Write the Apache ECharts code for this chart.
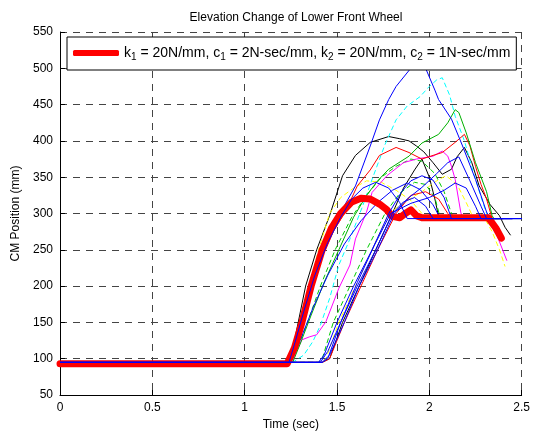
<!DOCTYPE html>
<html>
<head>
<meta charset="utf-8">
<title>Elevation Change of Lower Front Wheel</title>
<script src="https://cdn.jsdelivr.net/npm/echarts@6/dist/echarts.min.js"></script>
<style>
  html, body { margin: 0; padding: 0; background: #fff; }
  #chart { width: 533px; height: 436px; }
</style>
</head>
<body>
<div id="chart"></div>
<script>
// axis ticks
const xTicks = [0, 0.5, 1, 1.5, 2, 2.5];
const yTicks = [50, 100, 150, 200, 250, 300, 350, 400, 450, 500, 550];

// [time (sec), CM position (mm)]
const thickRed = [[0,93],[1.23,93],[1.27,115],[1.31,150],[1.36,200],[1.42,250],[1.47,280],[1.52,300],[1.58,316],[1.63,321],[1.68,320],[1.73,313],[1.77,305],[1.80,296],[1.84,294],[1.87,300],[1.90,305],[1.93,297],[1.96,294],[2.32,294],[2.36,280],[2.39,266]];
const blackEarly = [[0,95],[1.22,95],[1.25,100],[1.29,150],[1.33,200],[1.39,250],[1.46,297],[1.53,352],[1.60,380],[1.68,398],[1.78,406],[1.84,403],[1.89,400],[1.93,393],[1.97,385],[2.02,370],[2.07,354],[2.12,361],[2.15,378],[2.19,391],[2.23,370],[2.27,338],[2.33,312],[2.38,297],[2.41,281],[2.44,270]];
const blackLate = [[0,95],[1.42,95],[1.46,100],[1.53,150],[1.62,200],[1.71,250],[1.80,300],[1.86,335],[1.92,360],[1.96,375],[2.00,350],[2.03,320],[2.05,296],[2.06,293],[2.40,293]];
const blueTall = [[0,95],[1.24,95],[1.26,100],[1.30,150],[1.36,200],[1.43,250],[1.51,297],[1.60,338],[1.68,393],[1.73,429],[1.78,457],[1.82,475],[1.89,497],[1.94,512],[1.98,500],[2.03,470],[2.05,457],[2.12,430],[2.18,393],[2.25,347],[2.31,302],[2.33,293],[2.50,293]];
const cyanDash = [[0,95],[1.26,95],[1.29,100],[1.32,105],[1.37,124],[1.41,146],[1.46,183],[1.51,229],[1.57,265],[1.64,311],[1.69,347],[1.76,395],[1.82,429],[1.88,448],[1.95,461],[2.00,475],[2.04,484],[2.07,487],[2.11,463],[2.14,434],[2.19,400],[2.24,355],[2.29,315],[2.32,293],[2.38,293]];
const greenPeak = [[0,95],[1.26,95],[1.30,120],[1.36,160],[1.43,205],[1.51,250],[1.59,295],[1.66,325],[1.72,345],[1.78,361],[1.89,379],[1.96,397],[2.05,409],[2.10,425],[2.14,443],[2.16,439],[2.20,411],[2.25,370],[2.31,330],[2.34,297],[2.35,293],[2.50,293]];
const redThin = [[0,95],[1.25,95],[1.28,120],[1.33,170],[1.40,230],[1.48,275],[1.55,305],[1.61,338],[1.68,360],[1.73,380],[1.82,391],[1.89,384],[1.96,375],[2.02,380],[2.07,384],[2.14,398],[2.19,409],[2.22,393],[2.25,365],[2.28,340],[2.31,320],[2.34,293],[2.45,293]];
const redLate = [[0,95],[1.42,95],[1.46,100],[1.54,150],[1.63,200],[1.72,250],[1.82,300],[1.90,325],[1.98,330],[2.05,320],[2.10,300],[2.12,293],[2.40,293]];
const magenta = [[0,95],[1.26,95],[1.28,110],[1.31,126],[1.35,130],[1.39,133],[1.44,151],[1.51,197],[1.57,229],[1.60,265],[1.66,302],[1.69,329],[1.77,352],[1.86,370],[1.93,375],[2.02,379],[2.07,386],[2.10,379],[2.12,365],[2.14,347],[2.17,302],[2.18,293],[2.32,293],[2.36,274],[2.42,235]];
const yellowDash = [[0,95],[1.24,95],[1.26,100],[1.30,150],[1.35,200],[1.40,250],[1.46,300],[1.52,322],[1.59,335],[1.66,345],[1.74,343],[1.82,332],[1.90,318],[1.96,300],[1.98,293],[2.30,293],[2.34,275],[2.38,250],[2.41,227]];
const yellowLate = [[0,95],[1.41,95],[1.44,100],[1.51,150],[1.60,200],[1.69,250],[1.78,300],[1.88,318],[1.96,330],[2.04,345],[2.09,352],[2.15,340],[2.20,315],[2.24,293],[2.30,293]];
const greenDash = [[0,95],[1.25,95],[1.28,110],[1.34,150],[1.41,200],[1.49,250],[1.58,295],[1.66,325],[1.74,350],[1.82,365],[1.90,375],[1.96,372],[2.03,355],[2.08,330],[2.12,300],[2.13,293],[2.40,293]];
const greenLate = [[0,95],[1.40,95],[1.42,100],[1.48,150],[1.57,200],[1.66,250],[1.76,300],[1.84,328],[1.92,343],[1.98,340],[2.03,322],[2.06,293],[2.40,293]];
const blueEarly = [[0,95],[1.24,95],[1.27,120],[1.32,165],[1.38,215],[1.45,260],[1.52,295],[1.58,320],[1.64,335],[1.71,343],[1.78,335],[1.84,315],[1.88,293],[2.50,293]];
const blueMid = [[0,95],[1.25,95],[1.30,125],[1.37,170],[1.45,215],[1.54,258],[1.63,290],[1.72,315],[1.80,332],[1.88,342],[1.95,333],[2.02,312],[2.06,293],[2.45,293]];
const blueLateA = [[0,95],[1.40,95],[1.43,105],[1.50,150],[1.59,200],[1.69,250],[1.78,300],[1.85,330],[1.90,345],[1.96,352],[2.02,346],[2.08,322],[2.12,293],[2.45,293]];
const blueLateB = [[0,95],[1.41,95],[1.45,110],[1.52,150],[1.61,200],[1.71,250],[1.80,300],[1.86,316],[1.92,322],[1.98,310],[2.02,293],[2.45,293]];
const blueLateC = [[0,95],[1.42,95],[1.46,105],[1.54,150],[1.62,200],[1.72,250],[1.81,300],[1.88,320],[1.96,336],[2.04,355],[2.10,370],[2.16,378],[2.22,345],[2.28,310],[2.31,293],[2.50,293]];
const blueLateD = [[0,95],[1.42,95],[1.45,100],[1.52,150],[1.61,205],[1.70,255],[1.79,300],[1.90,314],[2.00,322],[2.08,332],[2.14,342],[2.20,335],[2.25,310],[2.28,293],[2.45,293]];

const legendName = 'k1 = 20N/mm, c1 = 2N-sec/mm, k2 = 20N/mm, c2 = 1N-sec/mm';
const font = 'Liberation Sans, Arial, Helvetica, sans-serif';

function thin(data, color, dashed) {
  return {
    type: 'line',
    data: data,
    showSymbol: false,
    silent: true,
    lineStyle: { color: color, width: 1, type: dashed ? [5, 3] : 'solid' },
    itemStyle: { color: color }
  };
}

var series = [
  thin(blackEarly, '#000000'),
  thin(blackLate, '#000000'),
  thin(cyanDash, '#00ffff', true),
  thin(yellowDash, '#ffff00', true),
  thin(yellowLate, '#ffff00', true),
  thin(greenDash, '#00cc00', true),
  thin(greenLate, '#00cc00', true),
  thin(magenta, '#ff00ff'),
  thin(redThin, '#ff0000'),
  thin(redLate, '#ff0000'),
  thin(greenPeak, '#00b000'),
  thin(blueMid, '#0000ff'),
  thin(blueTall, '#0000ff'),
  {
    name: legendName,
    type: 'line',
    data: thickRed,
    showSymbol: false,
    silent: true,
    lineStyle: { color: '#ff0000', width: 7, cap: 'round', join: 'round' },
    itemStyle: { color: '#ff0000' }
  },
  thin(blueEarly, '#0000ff'),
  thin(blueLateA, '#0000ff'),
  thin(blueLateB, '#0000ff'),
  thin(blueLateC, '#0000ff'),
  thin(blueLateD, '#0000ff')
];

var chart = echarts.init(document.getElementById('chart'), null, { renderer: 'canvas' });
var option = {
  animation: false,
  backgroundColor: '#ffffff',
  title: {
    text: 'Elevation Change of Lower Front Wheel',
    left: 291,
    textAlign: 'center',
    top: 7,
    textStyle: { fontFamily: font, fontSize: 12, fontWeight: 'normal', color: '#000' }
  },
  legend: {
    data: [legendName],
    left: 67,
    top: 37,
    padding: [9, 6, 8, 6],
    itemWidth: 46,
    itemHeight: 6,
    itemGap: 4,
    icon: 'roundRect',
    backgroundColor: '#ffffff',
    borderColor: '#000000',
    borderWidth: 1,
    borderRadius: 0,
    selectedMode: false,
    formatter: function () {
      return '{t|k}{s|1}{t| = 20N/mm, c}{s|1}{t| = 2N-sec/mm, k}{s|2}{t| = 20N/mm, c}{s|2}{t| = 1N-sec/mm}';
    },
    textStyle: {
      rich: {
        t: { fontFamily: font, fontSize: 14, color: '#000', lineHeight: 18 },
        s: { fontFamily: font, fontSize: 10, color: '#000', lineHeight: 10, verticalAlign: 'bottom' }
      }
    }
  },
  grid: { left: 60, right: 10.5, top: 32, bottom: 39, show: false },
  xAxis: {
    type: 'value',
    min: xTicks[0],
    max: xTicks[xTicks.length - 1],
    interval: 0.5,
    name: 'Time (sec)',
    nameLocation: 'middle',
    nameGap: 24,
    nameTextStyle: { fontFamily: font, fontSize: 12, color: '#000' },
    axisLine: { show: true, lineStyle: { color: '#000', width: 1 } },
    axisTick: { show: true, inside: true, length: 5, lineStyle: { color: '#000' } },
    axisLabel: { fontFamily: font, fontSize: 12, color: '#000', margin: 7 },
    splitLine: { show: true, lineStyle: { color: '#444', width: 1, type: [7, 6] } }
  },
  yAxis: {
    type: 'value',
    min: yTicks[0],
    max: yTicks[yTicks.length - 1],
    interval: 50,
    name: 'CM Position (mm)',
    nameLocation: 'middle',
    nameGap: 36,
    nameTextStyle: { fontFamily: font, fontSize: 12, color: '#000' },
    axisLine: { show: true, lineStyle: { color: '#000', width: 1 } },
    axisTick: { show: true, inside: true, length: 5, lineStyle: { color: '#000' } },
    axisLabel: { fontFamily: font, fontSize: 12, color: '#000', margin: 7 },
    splitLine: { show: true, lineStyle: { color: '#444', width: 1, type: [7, 6] } }
  },
  series: series
};
chart.setOption(option);
</script>
</body>
</html>
